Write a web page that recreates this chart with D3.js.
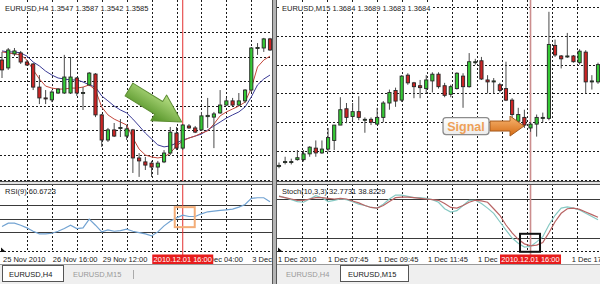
<!DOCTYPE html>
<html>
<head>
<meta charset="utf-8">
<script src="https://cdn.jsdelivr.net/npm/d3@7/dist/d3.min.js"></script>
<style>
  html, body { margin: 0; padding: 0; background: #fff; }
  svg { display: block; font-family: "Liberation Sans", Arial, sans-serif; }
</style>
</head>
<body>
<div id="chart"></div>
<script>
// ---- EURUSD,H4 window (left) ----
const H4_OPEN  = [1.3386, 1.3354, 1.3411, 1.3415, 1.3378, 1.3370, 1.3276, 1.3232, 1.3224, 1.3252, 1.3252, 1.3252, 1.3313, 1.3252, 1.3285, 1.3329, 1.3163, 1.3061, 1.3102, 1.3108, 1.3077, 1.3102, 1.2988, 1.2972, 1.2967, 1.2951, 1.2972, 1.3008, 1.3089, 1.3028, 1.3118, 1.3110, 1.3102, 1.3156, 1.3154, 1.3171, 1.3203, 1.3220, 1.3203, 1.3220, 1.3264, 1.3433, 1.3435, 1.3472];
const H4_HIGH  = [1.3419, 1.3435, 1.3435, 1.3423, 1.3386, 1.3374, 1.3325, 1.3264, 1.3264, 1.3272, 1.3407, 1.3398, 1.3317, 1.3276, 1.3337, 1.3333, 1.3167, 1.3110, 1.3130, 1.3146, 1.3122, 1.3106, 1.3008, 1.2992, 1.2976, 1.2976, 1.3020, 1.3114, 1.3114, 1.3126, 1.3126, 1.3118, 1.3175, 1.3232, 1.3175, 1.3264, 1.3232, 1.3232, 1.3252, 1.3268, 1.3439, 1.3455, 1.3476, 1.3476];
const H4_LOW   = [1.3313, 1.3346, 1.3402, 1.3370, 1.3362, 1.3264, 1.3207, 1.3207, 1.3215, 1.3248, 1.3248, 1.3248, 1.3240, 1.3183, 1.3280, 1.3154, 1.3033, 1.3053, 1.3073, 1.3073, 1.3061, 1.2927, 1.2911, 1.2939, 1.2911, 1.2919, 1.2967, 1.3000, 1.3020, 1.3020, 1.3106, 1.3089, 1.3098, 1.3110, 1.3028, 1.3167, 1.3199, 1.3199, 1.3199, 1.3211, 1.3256, 1.3407, 1.3419, 1.3423];
const H4_CLOSE = [1.3346, 1.3427, 1.3423, 1.3378, 1.3366, 1.3276, 1.3232, 1.3228, 1.3256, 1.3268, 1.3317, 1.3317, 1.3252, 1.3254, 1.3333, 1.3163, 1.3061, 1.3102, 1.3077, 1.3112, 1.3106, 1.2988, 1.2976, 1.2959, 1.2951, 1.2967, 1.3008, 1.3093, 1.3028, 1.3122, 1.3110, 1.3093, 1.3159, 1.3161, 1.3167, 1.3203, 1.3220, 1.3203, 1.3220, 1.3264, 1.3435, 1.3437, 1.3472, 1.3427];
const H4_MA_FAST = [1.3419, 1.3415, 1.3411, 1.3407, 1.3386, 1.3346, 1.3309, 1.3280, 1.3272, 1.3268, 1.3268, 1.3272, 1.3272, 1.3276, 1.3285, 1.3264, 1.3195, 1.3163, 1.3146, 1.3134, 1.3122, 1.3069, 1.3024, 1.3000, 1.2992, 1.2988, 1.2992, 1.3008, 1.3037, 1.3057, 1.3069, 1.3077, 1.3089, 1.3098, 1.3126, 1.3159, 1.3175, 1.3187, 1.3199, 1.3215, 1.3272, 1.3358, 1.3386, 1.3402];
const H4_MA_SLOW = [1.3423, 1.3419, 1.3419, 1.3415, 1.3402, 1.3378, 1.3362, 1.3341, 1.3325, 1.3313, 1.3309, 1.3305, 1.3305, 1.3297, 1.3285, 1.3276, 1.3240, 1.3220, 1.3199, 1.3183, 1.3171, 1.3146, 1.3118, 1.3089, 1.3065, 1.3041, 1.3033, 1.3037, 1.3049, 1.3061, 1.3069, 1.3077, 1.3085, 1.3102, 1.3118, 1.3134, 1.3150, 1.3163, 1.3175, 1.3195, 1.3236, 1.3285, 1.3309, 1.3325];
const H4_RSI = [38, 43, 43, 40, 36, 31, 27, 27, 28, 31, 35, 40, 35, 36, 49, 40, 30, 33, 31, 32, 34, 31, 29, 27, 24, 30, 39, 46, 51, 55, 53, 53, 57, 60, 61, 62, 63, 64, 67, 71, 80, 81, 81, 75];
const H4_PRICE_TICKS = [1.29, 1.30, 1.31, 1.32, 1.33, 1.34, 1.35];
const H4_GRID_BARS = [4, 8, 12, 16, 20, 24, 28, 32, 36, 40];
const H4_LABEL_BARS = [0, 8, 16, 32, 40];
const H4_TIME_LABELS = ['25 Nov 2010', '26 Nov 16:00', '29 Nov 12:00', '2 Dec 04:00', '3 Dec 12:00'];
const H4_SIGNAL_BAR = 29;
const RSI_LEVELS = [30, 50, 70];

// ---- EURUSD,M15 window (right) ----
const M15_OPEN  = [1.3024, 1.3028, 1.3028, 1.3031, 1.3031, 1.3037, 1.3043, 1.3038, 1.3042, 1.3051, 1.3067, 1.3084, 1.3076, 1.3081, 1.3072, 1.3073, 1.3068, 1.3075, 1.3090, 1.3103, 1.3093, 1.3119, 1.3111, 1.3108, 1.3105, 1.3113, 1.3120, 1.3108, 1.3099, 1.3105, 1.3118, 1.3107, 1.3132, 1.3134, 1.3114, 1.3112, 1.3109, 1.3105, 1.3093, 1.3071, 1.3075, 1.3064, 1.3068, 1.3074, 1.3074, 1.3150, 1.3139, 1.3138, 1.3139, 1.3132, 1.3143, 1.3112, 1.3112];
const M15_HIGH  = [1.3028, 1.3034, 1.3032, 1.3041, 1.3041, 1.3045, 1.3051, 1.3051, 1.3064, 1.3067, 1.3096, 1.3090, 1.3090, 1.3097, 1.3075, 1.3075, 1.3085, 1.3092, 1.3104, 1.3106, 1.3119, 1.3121, 1.3112, 1.3114, 1.3119, 1.3122, 1.3122, 1.3111, 1.3109, 1.3122, 1.3121, 1.3142, 1.3136, 1.3138, 1.3119, 1.3116, 1.3111, 1.3133, 1.3095, 1.3085, 1.3083, 1.3070, 1.3078, 1.3080, 1.3185, 1.3156, 1.3140, 1.3163, 1.3140, 1.3146, 1.3145, 1.3119, 1.3132];
const M15_LOW   = [1.3022, 1.3026, 1.3026, 1.3030, 1.3029, 1.3034, 1.3034, 1.3037, 1.3039, 1.3041, 1.3067, 1.3069, 1.3072, 1.3072, 1.3059, 1.3067, 1.3067, 1.3070, 1.3083, 1.3086, 1.3091, 1.3109, 1.3095, 1.3095, 1.3100, 1.3101, 1.3105, 1.3096, 1.3096, 1.3104, 1.3085, 1.3106, 1.3130, 1.3114, 1.3100, 1.3100, 1.3101, 1.3092, 1.3074, 1.3070, 1.3064, 1.3060, 1.3055, 1.3070, 1.3072, 1.3138, 1.3126, 1.3137, 1.3132, 1.3130, 1.3100, 1.3104, 1.3110];
const M15_CLOSE = [1.3025, 1.3029, 1.3029, 1.3033, 1.3037, 1.3044, 1.3038, 1.3042, 1.3054, 1.3067, 1.3083, 1.3075, 1.3081, 1.3075, 1.3073, 1.3070, 1.3075, 1.3090, 1.3101, 1.3092, 1.3118, 1.3111, 1.3107, 1.3106, 1.3114, 1.3120, 1.3107, 1.3098, 1.3107, 1.3121, 1.3107, 1.3133, 1.3133, 1.3115, 1.3112, 1.3113, 1.3103, 1.3093, 1.3078, 1.3078, 1.3067, 1.3068, 1.3075, 1.3075, 1.3151, 1.3140, 1.3136, 1.3139, 1.3133, 1.3144, 1.3112, 1.3113, 1.3130];
const M15_STOCH_MAIN   = [85, 82, 79, 76, 75, 80, 85, 82, 76, 78, 80, 79, 76, 72, 70, 67, 66, 72, 80, 86, 86, 84, 82, 82, 81, 79, 75, 65, 60, 62, 70, 78, 78, 73, 66, 58, 45, 32, 20, 12, 6, 7, 14, 22, 40, 55, 66, 68, 66, 63, 58, 53, 48];
const M15_STOCH_SIGNAL = [84, 82, 80, 78, 78, 80, 82, 82, 81, 80, 81, 80, 77, 74, 70, 67, 66, 70, 76, 82, 83, 83, 82, 81, 80, 79, 78, 73, 67, 66, 70, 75, 78, 77, 75, 65, 55, 40, 28, 18, 11, 8, 9, 13, 28, 45, 58, 65, 66, 64, 60, 56, 52];
const M15_PRICE_TICKS = [1.3010, 1.3040, 1.3070, 1.3100, 1.3130, 1.3160, 1.3190];
const M15_GRID_HOURS = [6.75, 7.75, 8.75, 9.75, 10.75, 11.75, 12.75, 13.75, 14.75, 15.75, 16.75, 17.75];
const M15_LABEL_HOURS = [5.75, 7.75, 9.75, 11.75, 13.75, 17.5];
const M15_TIME_LABELS = ['1 Dec 2010', '1 Dec 07:45', '1 Dec 09:45', '1 Dec 11:45', '1 Dec 13:45', '1 Dec 17:30'];
const M15_SIGNAL_BAR = 41;
const STOCH_LEVELS = [20, 80];

const BULL = '#35c935', BEAR = '#cc2424';
const MAIN_Y1 = 181, SUB_Y0 = 185, AXIS_Y = 251.5;

const svg = d3.select('#chart').append('svg').attr('width', 600).attr('height', 284);
const defs = svg.append('defs');
svg.append('rect').attr('width', 600).attr('height', 284).attr('fill', '#fff');

function clip(id, rects) {
  const cp = defs.append('clipPath').attr('id', id);
  rects.forEach(r => cp.append('rect').attr('x', r[0]).attr('y', r[1]).attr('width', r[2]).attr('height', r[3]));
  return `url(#${id})`;
}

function gradient(id, top, bottom) {
  const lg = defs.append('linearGradient').attr('id', id)
    .attr('x1', 0).attr('y1', 0).attr('x2', 0).attr('y2', 1);
  lg.append('stop').attr('offset', '0%').attr('stop-color', top);
  lg.append('stop').attr('offset', '100%').attr('stop-color', bottom);
}

function drawWindow(o) {
  const w = o.x1 - o.x0;
  const g = svg.append('g');
  const crisp = v => Math.round(v) + 0.5;

  // dotted grid
  const grid = g.append('g').attr('stroke', '#1a1a1a').attr('stroke-width', 1).attr('stroke-dasharray', '2,2');
  grid.selectAll('line.v').data(o.gridX).join('line').attr('class', 'v')
    .attr('x1', d => crisp(d)).attr('x2', d => crisp(d))
    .attr('y1', 0).attr('y2', AXIS_Y);
  grid.selectAll('line.h').data(o.priceTicks).join('line').attr('class', 'h')
    .attr('x1', o.x0).attr('x2', o.x1)
    .attr('y1', d => crisp(o.y(d))).attr('y2', d => crisp(o.y(d)));
  grid.append('line').attr('x1', o.x0).attr('x2', o.x1).attr('y1', AXIS_Y).attr('y2', AXIS_Y);

  // indicator levels
  g.append('g').selectAll('line').data(o.sub.levels).join('line')
    .attr('x1', o.x0).attr('x2', o.x1)
    .attr('y1', d => crisp(o.sub.y(d))).attr('y2', d => crisp(o.sub.y(d)))
    .attr('stroke', '#3a3a3a').attr('stroke-width', 1);

  // signal time line
  const sx = o.x(o.signalBar);
  g.append('line').attr('x1', sx).attr('x2', sx).attr('y1', 0).attr('y2', 256)
    .attr('stroke', o.vline.color).attr('stroke-width', o.vline.width);

  // header, drawn over the grid with a white back
  const head = g.append('text').attr('x', o.x0 + 5).attr('y', 10.5)
    .attr('font-size', '7.5px').attr('fill', '#1a1a1a').text(o.header);
  const hw = head.node().getComputedTextLength();
  g.insert('rect', () => head.node()).attr('x', o.x0 + 4).attr('y', 3).attr('width', hw + 2).attr('height', 9)
    .attr('fill', '#fff');

  // price window: moving averages and candles
  const main = g.append('g').attr('clip-path', clip(o.id + '-main', [[o.x0, 0, w, MAIN_Y1]]));
  o.mas.forEach(m => {
    main.append('path').datum(m.values)
      .attr('d', d3.line().x((d, i) => o.x(i)).y(d => o.y(d)))
      .attr('fill', 'none').attr('stroke', m.color).attr('stroke-width', 1);
  });
  const idx = d3.range(o.open.length);
  main.selectAll('line.wick').data(idx).join('line').attr('class', 'wick')
    .attr('x1', i => o.x(i)).attr('x2', i => o.x(i))
    .attr('y1', i => o.y(o.high[i])).attr('y2', i => o.y(o.low[i]))
    .attr('stroke', '#4a4a4a').attr('stroke-width', 1);
  main.selectAll('rect.body').data(idx).join('rect').attr('class', 'body')
    .attr('x', i => o.x(i) - 1.6).attr('width', 3.2)
    .attr('y', i => o.y(Math.max(o.open[i], o.close[i])))
    .attr('height', i => Math.max(1, Math.abs(o.y(o.open[i]) - o.y(o.close[i]))))
    .attr('fill', i => o.close[i] >= o.open[i] ? BULL : BEAR)
    .attr('stroke', '#262626').attr('stroke-width', 0.9);

  // indicator window
  const sub = g.append('g').attr('clip-path', clip(o.id + '-sub', [[o.x0, SUB_Y0, w, AXIS_Y - SUB_Y0]]));
  o.sub.lines.forEach(l => {
    sub.append('path').datum(l.values)
      .attr('d', d3.line().x((d, i) => o.x(i)).y(d => o.sub.y(d)))
      .attr('fill', 'none').attr('stroke', l.color).attr('stroke-width', 1.2);
  });

  // window separator
  g.append('rect').attr('x', o.x0).attr('y', MAIN_Y1).attr('width', w).attr('height', SUB_Y0 - MAIN_Y1)
    .attr('fill', '#e2e2e2');
  [MAIN_Y1 + 0.5, SUB_Y0 - 0.5].forEach(yy => {
    g.append('line').attr('x1', o.x0).attr('x2', o.x1).attr('y1', yy).attr('y2', yy)
      .attr('stroke', '#505050');
  });

  // shift marker
  g.append('path')
    .attr('d', `M${o.x0 + 1},${AXIS_Y - 4} L${o.x0 + 1},${AXIS_Y + 0.5} L${o.x0 + 6},${AXIS_Y + 0.5} Z`)
    .attr('fill', '#111');

  g.append('text').attr('x', o.x0 + 5).attr('y', 194)
    .attr('font-size', '7.5px').attr('fill', '#1a1a1a').text(o.sub.label);

  // time labels, hidden where the time box sits and at the window edge
  const labelClip = clip(o.id + '-lab', [
    [o.x0, 250, sx - 30.5 - o.x0, 16],
    [sx + 30.5, 250, o.x1 - sx - 30.5, 16]
  ]);
  g.append('g').attr('clip-path', labelClip)
    .attr('font-size', '7.5px').attr('fill', '#1a1a1a')
    .selectAll('text').data(o.timeLabels).join('text')
    .attr('x', d => d.x + 1).attr('y', 262).text(d => d.text);

  // current time box
  g.append('rect').attr('x', sx - 30.5).attr('y', 254.5).attr('width', 61).attr('height', 9.5)
    .attr('fill', '#e81c1c');
  g.append('text').attr('x', sx).attr('y', 262).attr('text-anchor', 'middle')
    .attr('font-size', '7.5px').attr('fill', '#fff').text(o.timeBox);
  return g;
}

function blockArrow(g, tip, angle, dims, fill, stroke) {
  const { len, headLen, headHalf, shaftHalf } = dims;
  const pts = [[0, 0], [-headLen, -headHalf], [-headLen, -shaftHalf], [-len, -shaftHalf],
               [-len, shaftHalf], [-headLen, shaftHalf], [-headLen, headHalf]];
  g.append('path')
    .attr('transform', `translate(${tip[0]},${tip[1]}) rotate(${angle})`)
    .attr('d', d3.line()(pts) + 'Z')
    .attr('fill', fill).attr('stroke', stroke).attr('stroke-width', 1).attr('stroke-linejoin', 'round');
}

gradient('greenArrow', '#b7df84', '#4e8e21');
gradient('orangeArrow', '#f8b774', '#d56a12');
gradient('signalBox', '#ffffff', '#ececec');

// ---- left window ----
const xL = d3.scaleLinear().domain([0, H4_OPEN.length - 1]).range([2, 270]);
const yL = d3.scaleLinear().domain([1.30, 1.35]).range([155, 32]);
const rsiY = d3.scaleLinear().domain([0, 100]).range([252, 185]);

const left = drawWindow({
  id: 'h4', x0: 0, x1: 272, x: xL, y: yL,
  gridX: H4_GRID_BARS.map(b => xL(b)),
  priceTicks: H4_PRICE_TICKS,
  open: H4_OPEN, high: H4_HIGH, low: H4_LOW, close: H4_CLOSE,
  mas: [{ values: H4_MA_SLOW, color: '#3b3b96' }, { values: H4_MA_FAST, color: '#c4483c' }],
  sub: { y: rsiY, levels: RSI_LEVELS, lines: [{ values: H4_RSI, color: '#72a3d2' }], label: 'RSI(9) 60.6723' },
  signalBar: H4_SIGNAL_BAR, vline: { color: '#e23030', width: 1 },
  header: 'EURUSD,H4  1.3547 1.3587 1.3542 1.3585',
  timeLabels: H4_LABEL_BARS.map((b, i) => ({ x: xL(b), text: H4_TIME_LABELS[i] })),
  timeBox: '2010.12.01 16:00'
});

// green arrow onto the signal candle, orange box on RSI
blockArrow(left, [xL(H4_SIGNAL_BAR) - 1, yL(H4_HIGH[H4_SIGNAL_BAR]) - 2], 31.6,
  { len: 62, headLen: 27, headHalf: 15, shaftHalf: 7.5 }, 'url(#greenArrow)', '#5f8f35');
left.append('rect')
  .attr('x', xL(H4_SIGNAL_BAR) - 8).attr('y', rsiY(H4_RSI[H4_SIGNAL_BAR]) - 8)
  .attr('width', 20).attr('height', 20)
  .attr('fill', 'none').attr('stroke', '#f3ad78').attr('stroke-width', 2);

// ---- right window ----
const xR = d3.scaleLinear().domain([0, M15_OPEN.length - 1]).range([279, 598]);
const tR = d3.scaleLinear().domain([5.75, 17.75]).range([277, 577]);
const yR = d3.scaleLinear().domain([1.3040, 1.3190]).range([151, 7]);
const stY = d3.scaleLinear().domain([0, 100]).range([251, 186]);

const right = drawWindow({
  id: 'm15', x0: 277, x1: 600, x: xR, y: yR,
  gridX: M15_GRID_HOURS.map(h => tR(h)),
  priceTicks: M15_PRICE_TICKS,
  open: M15_OPEN, high: M15_HIGH, low: M15_LOW, close: M15_CLOSE,
  mas: [],
  sub: { y: stY, levels: STOCH_LEVELS,
         lines: [{ values: M15_STOCH_MAIN, color: '#86c9c3' }, { values: M15_STOCH_SIGNAL, color: '#b86464' }],
         label: 'Stoch(10,3,3) 32.7731 38.8229' },
  signalBar: M15_SIGNAL_BAR, vline: { color: '#cc8e8e', width: 1.6 },
  header: 'EURUSD,M15  1.3684 1.3689 1.3683 1.3684',
  timeLabels: M15_LABEL_HOURS.map((h, i) => ({ x: tR(h), text: M15_TIME_LABELS[i] })),
  timeBox: '2010.12.01 16:00'
});

// orange "Signal" arrow and black box on the stochastic low
const sigMid = (M15_OPEN[M15_SIGNAL_BAR] + M15_CLOSE[M15_SIGNAL_BAR]) / 2;
const tip = [xR(M15_SIGNAL_BAR) - 6.5, yR(sigMid)];
blockArrow(right, tip, 0, { len: 34, headLen: 14, headHalf: 10, shaftHalf: 5 }, 'url(#orangeArrow)', '#a55a1e');
right.append('rect')
  .attr('x', tip[0] - 34 - 47).attr('y', tip[1] - 8.5).attr('width', 46).attr('height', 17).attr('rx', 3)
  .attr('fill', 'url(#signalBox)').attr('stroke', '#8c8c8c').attr('stroke-width', 1.3);
right.append('text')
  .attr('x', tip[0] - 34 - 24).attr('y', tip[1] + 4.5).attr('text-anchor', 'middle')
  .attr('font-size', '12.5px').attr('font-weight', 'bold').attr('fill', '#eea058')
  .text('Signal');
right.append('rect')
  .attr('x', xR(M15_SIGNAL_BAR) - 10.5).attr('y', stY(M15_STOCH_SIGNAL[M15_SIGNAL_BAR]) - 12)
  .attr('width', 20).attr('height', 18)
  .attr('fill', 'none').attr('stroke', '#111').attr('stroke-width', 2);

// ---- window divider and tab bars ----
svg.append('rect').attr('x', 272).attr('y', 0).attr('width', 5).attr('height', 284).attr('fill', '#b4b4b4');
[272.5, 276.5].forEach(x => svg.append('line').attr('x1', x).attr('x2', x).attr('y1', 0).attr('y2', 284)
  .attr('stroke', '#555'));

const TAB_NAMES = ['EURUSD,H4', 'EURUSD,M15'];
const TAB_BARS = [{ x0: 0, x1: 272, active: 0 }, { x0: 277, x1: 600, active: 1 }];
TAB_BARS.forEach(t => {
  const g = svg.append('g');
  g.append('rect').attr('x', t.x0).attr('y', 264).attr('width', t.x1 - t.x0).attr('height', 20).attr('fill', '#efefef');
  g.append('line').attr('x1', t.x0).attr('x2', t.x1).attr('y1', 264.5).attr('y2', 264.5).attr('stroke', '#9a9a9a');
  const ax = t.x0 + 2.5 + t.active * 61;
  const aw = t.active ? 68 : 61;
  g.append('rect').attr('x', ax).attr('y', 265.5).attr('width', aw).attr('height', 16)
    .attr('fill', '#fff').attr('stroke', '#555');
  TAB_NAMES.forEach((name, i) => {
    const tx = i === 0 ? t.x0 + 9 : t.x0 + (t.active ? 71 : 73);
    g.append('text').attr('x', tx).attr('y', 277).attr('font-size', '7.5px')
      .attr('fill', i === t.active ? '#1a1a1a' : '#9a9a9a').text(name);
  });
  if (!t.active) {
    g.append('line').attr('x1', t.x0 + 133.5).attr('x2', t.x0 + 133.5).attr('y1', 270).attr('y2', 279)
      .attr('stroke', '#aaa');
  }
});
</script>
</body>
</html>
